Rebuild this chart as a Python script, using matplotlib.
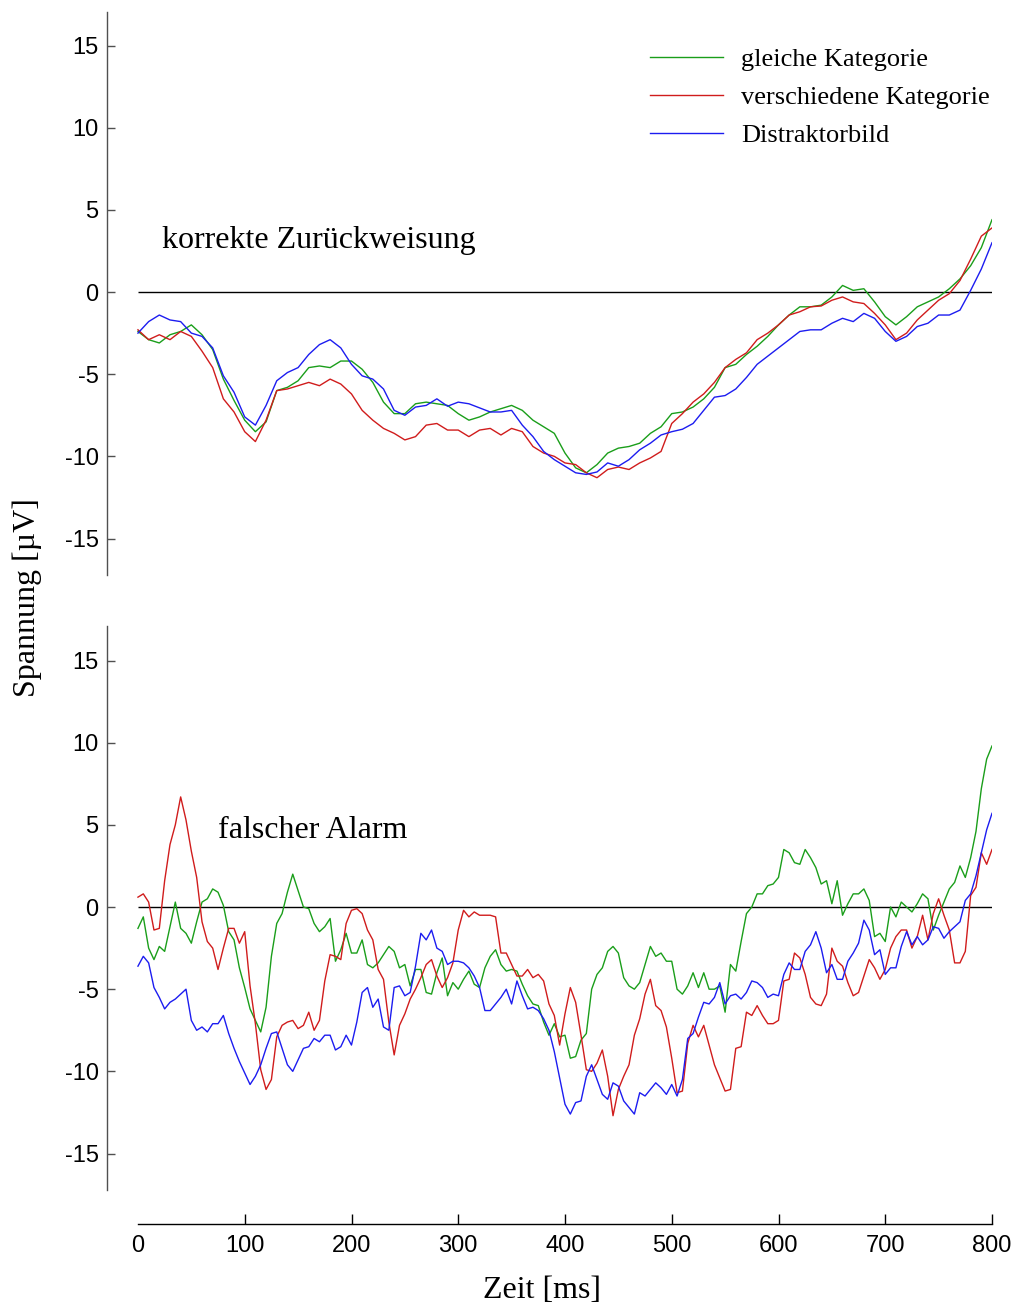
import numpy as np
import matplotlib.pyplot as plt

# ERP time axis (ms)
t_top = np.arange(0, 801, 10)
t_bot = np.arange(0, 801, 5)

labels = ["gleiche Kategorie", "verschiedene Kategorie", "Distraktorbild"]
colors = ["#1a9e1a", "#d01c1c", "#1c1cf0"]

# korrekte Zurückweisung (µV)
kz_gleich = [
    -2.4, -2.9, -3.1, -2.6, -2.4, -2.0, -2.6, -3.5, -5.3, -6.6,
    -7.8, -8.5, -7.9, -6.0, -5.8, -5.4, -4.6, -4.5, -4.6, -4.2,
    -4.2, -4.7, -5.5, -6.7, -7.4, -7.4, -6.8, -6.7, -6.8, -6.9,
    -7.4, -7.8, -7.6, -7.3, -7.1, -6.9, -7.2, -7.8, -8.2, -8.6,
    -9.8, -10.7, -11.0, -10.5, -9.8, -9.5, -9.4, -9.2, -8.6, -8.2,
    -7.4, -7.3, -7.0, -6.5, -5.8, -4.6, -4.4, -3.8, -3.3, -2.7,
    -2.0, -1.4, -0.9, -0.9, -0.8, -0.3, 0.4, 0.1, 0.2, -0.6,
    -1.5, -2.0, -1.5, -0.9, -0.6, -0.3, 0.2, 0.8, 1.6, 2.7,
    4.4,
]
kz_versch = [
    -2.3, -2.9, -2.6, -2.9, -2.4, -2.7, -3.6, -4.6, -6.5, -7.3,
    -8.5, -9.1, -7.8, -6.0, -5.9, -5.7, -5.5, -5.7, -5.3, -5.6,
    -6.2, -7.2, -7.8, -8.3, -8.6, -9.0, -8.8, -8.1, -8.0, -8.4,
    -8.4, -8.8, -8.4, -8.3, -8.7, -8.3, -8.5, -9.4, -9.8, -10.0,
    -10.4, -10.5, -11.0, -11.3, -10.8, -10.65, -10.8, -10.4, -10.1, -9.7,
    -8.0, -7.4, -6.7, -6.2, -5.5, -4.6, -4.1, -3.7, -2.9, -2.5,
    -2.0, -1.4, -1.2, -0.9, -0.85, -0.5, -0.3, -0.6, -0.7, -1.3,
    -2.0, -2.9, -2.5, -1.7, -1.1, -0.5, -0.1, 0.7, 2.0, 3.4,
    3.9,
]
kz_distr = [
    -2.5, -1.8, -1.4, -1.7, -1.8, -2.5, -2.7, -3.4, -5.1, -6.1,
    -7.6, -8.1, -6.9, -5.4, -4.9, -4.6, -3.8, -3.2, -2.9, -3.4,
    -4.4, -5.1, -5.3, -5.9, -7.2, -7.5, -7.0, -6.9, -6.5, -6.95,
    -6.7, -6.8, -7.05, -7.3, -7.3, -7.2, -8.1, -8.8, -9.7, -10.2,
    -10.6, -11.0, -11.1, -10.95, -10.4, -10.6, -10.2, -9.6, -9.2, -8.7,
    -8.5, -8.35, -8.0, -7.2, -6.4, -6.3, -5.9, -5.2, -4.4, -3.9,
    -3.4, -2.9, -2.4, -2.3, -2.3, -1.9, -1.6, -1.8, -1.3, -1.6,
    -2.4, -3.0, -2.7, -2.1, -1.9, -1.4, -1.4, -1.1, 0.1, 1.4,
    3.0,
]

# falscher Alarm (µV)
fa_gleich = [
    -1.3, -0.6, -2.5, -3.2, -2.4, -2.7, -1.2, 0.3, -1.3, -1.6,
    -2.2, -0.9, 0.3, 0.5, 1.1, 0.9, 0.1, -1.5, -2.0, -3.7,
    -4.9, -6.2, -6.9, -7.6, -6.1, -3.0, -1.0, -0.4, 0.9, 2.0,
    1.0, 0.0, -0.1, -1.0, -1.5, -1.2, -0.7, -3.3, -2.6, -1.6,
    -2.8, -2.8, -2.0, -3.5, -3.7, -3.4, -2.9, -2.4, -2.7, -3.7,
    -3.5, -4.8, -3.8, -3.8, -5.2, -5.3, -4.0, -3.1, -5.4, -4.6,
    -5.0, -4.4, -3.9, -4.7, -4.9, -3.7, -3.0, -2.6, -3.5, -3.9,
    -3.8, -3.9, -4.7, -5.4, -5.9, -6.0, -7.0, -7.8, -7.1, -7.9,
    -7.8, -9.2, -9.1, -8.1, -7.7, -5.0, -4.1, -3.7, -2.7, -2.4,
    -2.8, -4.3, -4.8, -5.0, -4.6, -3.5, -2.4, -3.0, -2.8, -3.3,
    -3.3, -5.0, -5.3, -4.8, -4.0, -4.9, -4.0, -5.0, -5.0, -4.8,
    -6.4, -3.5, -3.9, -2.1, -0.4, 0.0, 0.8, 0.8, 1.3, 1.4,
    1.8, 3.5, 3.3, 2.7, 2.6, 3.5, 3.0, 2.4, 1.4, 1.6,
    0.2, 1.6, -0.5, 0.2, 0.8, 0.8, 1.1, 0.4, -1.8, -1.6,
    -2.1, 0.0, -0.6, 0.3, 0.0, -0.3, 0.2, 0.8, 0.5, -1.4,
    -0.5, 0.3, 1.1, 1.5, 2.5, 1.8, 3.0, 4.6, 7.2, 9.0,
    9.8,
]
fa_versch = [
    0.6, 0.8, 0.3, -1.4, -1.3, 1.6, 3.8, 5.0, 6.7, 5.3,
    3.4, 1.8, -0.9, -2.1, -2.5, -3.8, -2.5, -1.3, -1.3, -2.2,
    -1.5, -4.8, -7.1, -9.9, -11.1, -10.5, -7.9, -7.2, -7.0, -6.9,
    -7.4, -7.2, -6.4, -7.5, -6.9, -4.5, -2.9, -3.0, -3.2, -1.0,
    -0.2, -0.1, -0.4, -1.4, -2.0, -3.8, -4.4, -7.0, -9.0, -7.2,
    -6.5, -5.6, -5.0, -4.3, -3.5, -3.2, -4.2, -4.9, -4.3, -3.4,
    -1.4, -0.2, -0.6, -0.3, -0.5, -0.5, -0.5, -0.6, -2.8, -2.8,
    -3.5, -4.2, -4.2, -3.8, -4.3, -4.1, -4.5, -5.9, -6.6, -8.4,
    -6.5, -4.9, -5.8, -7.8, -9.9, -10.0, -9.5, -8.7, -10.3, -12.7,
    -11.1, -10.3, -9.6, -7.8, -6.8, -5.3, -4.4, -6.0, -6.3, -7.3,
    -9.2, -11.3, -11.2, -8.3, -7.2, -7.9, -7.2, -8.4, -9.6, -10.4,
    -11.2, -11.1, -8.6, -8.5, -6.4, -6.6, -6.0, -6.6, -7.1, -7.1,
    -6.9, -4.5, -4.4, -2.8, -3.1, -4.1, -5.5, -5.9, -6.0, -5.3,
    -2.5, -3.3, -3.6, -4.6, -5.4, -5.2, -4.2, -3.2, -3.7, -4.4,
    -3.8, -2.5, -1.8, -1.4, -1.4, -2.5, -1.8, -0.5, -2.0, -0.4,
    0.5, -0.5, -1.4, -3.4, -3.4, -2.7, 0.7, 1.2, 3.3, 2.6,
    3.5,
]
fa_distr = [
    -3.6, -3.0, -3.4, -4.9, -5.5, -6.2, -5.8, -5.6, -5.3, -5.0,
    -6.9, -7.5, -7.3, -7.6, -7.1, -7.1, -6.6, -7.7, -8.6, -9.4,
    -10.1, -10.8, -10.3, -9.6, -8.6, -7.7, -7.6, -8.6, -9.6, -10.0,
    -9.3, -8.6, -8.5, -8.0, -8.2, -7.8, -7.8, -8.7, -8.5, -7.8,
    -8.4, -7.0, -5.2, -4.9, -6.1, -5.6, -7.3, -7.5, -4.9, -4.8,
    -5.4, -5.2, -3.6, -1.6, -2.0, -1.4, -2.5, -2.7, -3.5, -3.3,
    -3.3, -3.4, -3.7, -4.2, -4.9, -6.3, -6.3, -5.9, -5.5, -5.0,
    -5.9, -4.5, -5.4, -6.2, -6.1, -6.3, -6.8, -7.5, -8.8, -10.4,
    -12.0, -12.6, -11.9, -11.8, -10.3, -9.6, -10.5, -11.4, -11.7, -10.7,
    -10.9, -11.8, -12.2, -12.6, -11.3, -11.5, -11.1, -10.7, -11.0, -11.4,
    -10.8, -11.5, -10.5, -8.0, -7.7, -6.7, -5.8, -5.9, -5.5, -4.6,
    -5.9, -5.4, -5.3, -5.6, -5.2, -4.5, -4.6, -4.9, -5.5, -5.3,
    -5.4, -4.1, -3.4, -3.8, -3.8, -2.7, -2.3, -1.5, -2.5, -4.0,
    -3.5, -4.4, -4.4, -3.3, -2.8, -2.2, -0.8, -1.4, -2.9, -2.6,
    -4.1, -3.7, -3.7, -2.4, -1.5, -2.3, -1.8, -2.3, -2.0, -1.2,
    -1.3, -1.9, -1.5, -1.2, -0.9, 0.4, 0.8, 1.9, 3.3, 4.7,
    5.7,
]

yticks = [-15, -10, -5, 0, 5, 10, 15]
xticks = [0, 100, 200, 300, 400, 500, 600, 700, 800]

sans = "Liberation Sans"
serif = "Liberation Serif"

W, H = 1015, 1309
fig = plt.figure(figsize=(W / 100, H / 100), dpi=100)


def fx(px):
    return px / W


def fy(py):
    return 1 - py / H


def panel(top, bottom, ylim):
    ax = fig.add_axes([fx(107), fy(bottom), fx(992 - 107), (bottom - top) / H])
    ax.set_xlim(-29.0, 800)
    ax.set_ylim(*ylim)
    for side in ("top", "right", "bottom"):
        ax.spines[side].set_visible(False)
    ax.spines["left"].set_color("#505050")
    ax.spines["left"].set_linewidth(1.0)
    ax.set_xticks([])
    ax.set_yticks(yticks)
    ax.set_yticklabels([str(v) for v in yticks], family=sans, fontsize=17)
    ax.tick_params(axis="y", direction="in", length=6, width=1.0,
                   color="#505050", pad=6)
    ax.hlines(0, 0, 800, color="black", lw=1.0, zorder=1)
    return ax


ax1 = panel(12, 575, (-17.22, 17.04))
for vals, c, lab in zip([kz_gleich, kz_versch, kz_distr], colors, labels):
    ax1.plot(t_top, vals, color=c, lw=1.0, label=lab, zorder=2)
ax1.text(22.5, 2.7, "korrekte Zurückweisung", family=serif, fontsize=23,
         ha="left", va="baseline")

leg = ax1.legend(loc="upper left", bbox_to_anchor=(fx(650), fy(48)),
                 bbox_transform=fig.transFigure, frameon=False,
                 prop={"family": serif, "size": 19}, handlelength=2.75,
                 handletextpad=0.7, labelspacing=0.55, borderpad=0,
                 borderaxespad=0)

ax2 = panel(626, 1190, (-17.22, 17.1))
for vals, c in zip([fa_gleich, fa_versch, fa_distr], colors):
    ax2.plot(t_bot, vals, color=c, lw=1.0, zorder=2)
ax2.text(75, 4.2, "falscher Alarm", family=serif, fontsize=23,
         ha="left", va="baseline")

# shared time axis below both panels
ax3 = fig.add_axes([fx(138), fy(1224), fx(992 - 138), 0.001])
ax3.set_xlim(0, 800)
ax3.set_yticks([])
for side in ("top", "right", "left"):
    ax3.spines[side].set_visible(False)
ax3.spines["bottom"].set_linewidth(1.0)
ax3.patch.set_visible(False)
ax3.set_xticks(xticks)
ax3.set_xticklabels([str(v) for v in xticks], family=sans, fontsize=17)
ax3.tick_params(axis="x", direction="in", length=7, width=1.0, pad=8)
ax3.xaxis.get_major_ticks()[0].tick1line.set_visible(False)

fig.text(fx(542), fy(1290), "Zeit [ms]", family=serif, fontsize=23,
         ha="center", va="center")
fig.text(fx(27), fy(598), "Spannung [µV]", family=serif, fontsize=23,
         ha="center", va="center", rotation=90)

fig.savefig("out.png", dpi=100)
